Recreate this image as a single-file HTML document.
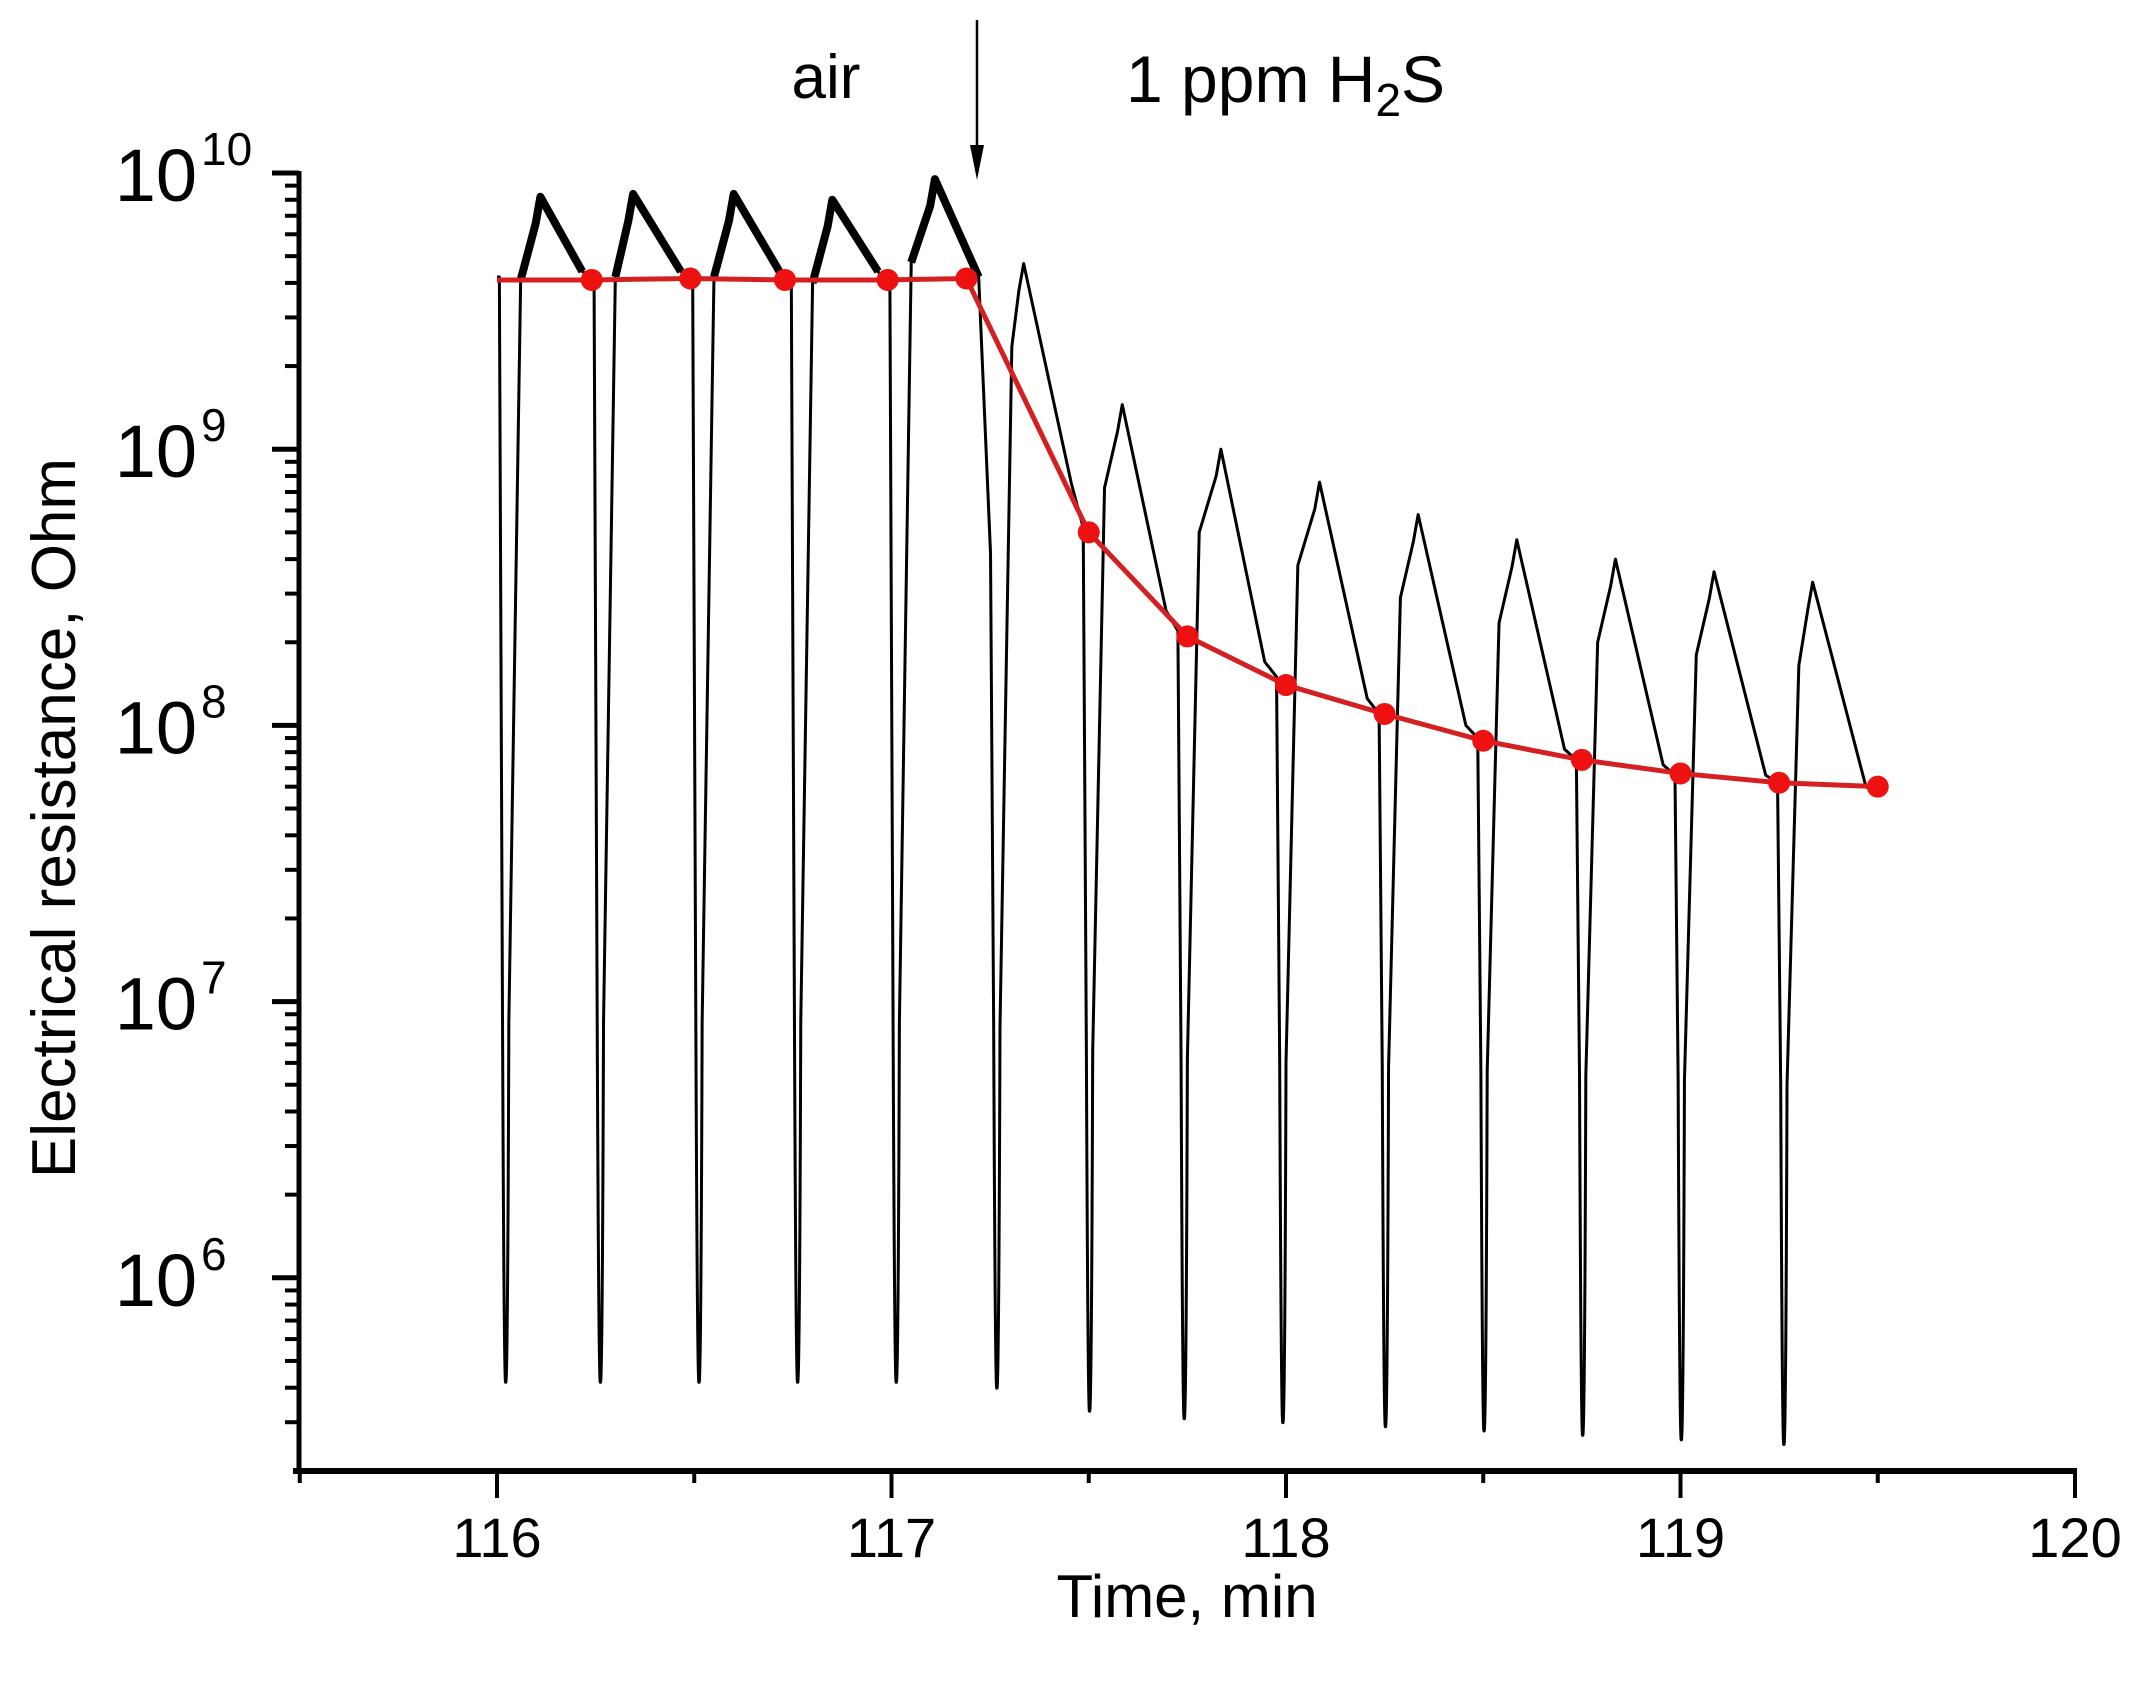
<!DOCTYPE html>
<html><head><meta charset="utf-8"><style>
html,body{margin:0;padding:0;background:#fff;}
svg{display:block;font-family:"Liberation Sans",Arial,sans-serif;}
</style></head><body>
<svg id="chart" width="2139" height="1686" viewBox="0 0 2139 1686" xmlns="http://www.w3.org/2000/svg">
<g id="axes"></g>
<g id="series"></g>
<text x="1187" y="1617" font-size="60" text-anchor="middle">Time, min</text>
<text transform="translate(75,818) rotate(-90)" font-size="62" text-anchor="middle">Electrical resistance, Ohm</text>
<text x="826" y="98" font-size="62" text-anchor="middle">air</text>
<text x="1126" y="102" font-size="66">1 ppm H<tspan font-size="46" dy="14">2</tspan><tspan dy="-14">S</tspan></text>
<g>
<line x1="977" y1="20" x2="977" y2="160" stroke="#000" stroke-width="2.5"/>
<polygon points="970,145 984,145 977,180" fill="#000"/>
</g>
</svg>
<script>
// ---- data ----
const xTicks = [116, 117, 118, 119, 120];
const xMinorTicks = [115.5, 116.5, 117.5, 118.5, 119.5];
const yDecades = [6, 7, 8, 9, 10];
// black trace cycle parameters
const dropTimes = [116.01, 116.25, 116.50, 116.75, 117.0, 117.255, 117.49, 117.73, 117.98, 118.24, 118.49, 118.74, 118.99, 119.25];
const minVals   = [4.2e5, 4.2e5, 4.2e5, 4.2e5, 4.2e5, 4.0e5, 3.3e5, 3.1e5, 3.0e5, 2.9e5, 2.8e5, 2.7e5, 2.6e5, 2.5e5];
const peakTimes = [116.11, 116.345, 116.60, 116.85, 117.11, 117.335, 117.585, 117.835, 118.085, 118.335, 118.585, 118.835, 119.085, 119.335];
const peakVals  = [8.2e9, 8.4e9, 8.4e9, 8.0e9, 9.5e9, 4.7e9, 1.45e9, 1.0e9, 7.6e8, 5.8e8, 4.7e8, 4.0e8, 3.6e8, 3.3e8];
const kneeVals  = [4.4e9, 4.4e9, 4.4e9, 4.4e9, 4.2e9, 7.5e8, 2.6e8, 1.7e8, 1.25e8, 1.0e8, 8.2e7, 7.2e7, 6.6e7, 6.0e7];
const endVals   = [4.2e9, 4.2e9, 4.2e9, 3.8e9, 4.2e8, 5.2e8, 2.2e8, 1.5e8, 1.1e8, 9.0e7, 7.5e7, 6.6e7, 6.2e7, 5.6e7];
const noisyCycle = [true, true, true, true, true, false, false, false, false, false, false, false, false, false];
const startTime = 116.0, startVal = 4.2e9;
// red baseline series
const redTimes = [116.0, 116.24, 116.49, 116.73, 116.99, 117.19, 117.5, 117.75, 118.0, 118.25, 118.5, 118.75, 119.0, 119.25, 119.5];
const redVals  = [4.1e9, 4.1e9, 4.15e9, 4.1e9, 4.1e9, 4.15e9, 5.0e8, 2.1e8, 1.4e8, 1.1e8, 8.8e7, 7.5e7, 6.7e7, 6.2e7, 6.0e7];
const redMarker = [false, true, true, true, true, true, true, true, true, true, true, true, true, true, true];

// ---- scales ----
const X0 = 497, XPER = 394.5;
function xs(t){ return X0 + (t - 116) * XPER; }
const Y10 = 173, YDEC = 276.2;
function ys(v){ return Y10 + (10 - Math.log10(v)) * YDEC; }
const NS = 'http://www.w3.org/2000/svg';
function el(tag, attrs, parent){ const e = document.createElementNS(NS, tag); for (const k in attrs) e.setAttribute(k, attrs[k]); parent.appendChild(e); return e; }

const axes = document.getElementById('axes');
const yBottom = 1471, xLeft = 299, xRight = xs(120);
const yl = el('line', {x1: xLeft, y1: ys(1e10) - 2, x2: xLeft, y2: yBottom, stroke: '#000', 'stroke-width': 5}, axes);


const xl = el('line', {x1: xLeft - 6, y1: yBottom, x2: xRight + 2, y2: yBottom, stroke: '#000', 'stroke-width': 6}, axes);


xTicks.forEach(t => {
  const l = el('line', {x1: xs(t), y1: yBottom, x2: xs(t), y2: yBottom + 27, stroke: '#000', 'stroke-width': 4}, axes);
  
  
  const tx = el('text', {x: xs(t), y: 1557, 'font-size': 56, 'text-anchor': 'middle'}, axes);
  
  
  tx.textContent = String(t);
});
xMinorTicks.forEach(t => {
  const l = el('line', {x1: xs(t), y1: yBottom, x2: xs(t), y2: yBottom + 12, stroke: '#000', 'stroke-width': 4}, axes);
  
  
});
yDecades.forEach(d => {
  const y = ys(Math.pow(10, d));
  const l = el('line', {x1: xLeft - 27, y1: y, x2: xLeft, y2: y, stroke: '#000', 'stroke-width': 5}, axes);
  
  
  const tx = el('text', {x: 197, y: y + 28, 'font-size': 74, 'text-anchor': 'end'}, axes);
  
  
  tx.textContent = '10';
  const ex = el('text', {x: 201, y: y - 8, 'font-size': 46, 'text-anchor': 'start'}, axes);
  
  
  ex.textContent = String(d);
});
for (let d = 5; d < 10; d++) {
  for (let m = 2; m <= 9; m++) {
    const y = ys(m * Math.pow(10, d));
    if (y > yBottom - 4) continue;
    const l = el('line', {x1: xLeft - 14, y1: y, x2: xLeft, y2: y, stroke: '#000', 'stroke-width': 4}, axes);
    
    
  }
}

// ---- black trace ----
const series = document.getElementById('series');
let d = 'M' + xs(startTime) + ',' + ys(startVal);
let prevEnd = startVal;
let thick = '';
for (let i = 0; i < dropTimes.length; i++) {
  const t = dropTimes[i], m = minVals[i];
  d += ' L' + xs(t - 0.004) + ',' + ys(prevEnd);
  d += ' L' + xs(t + 0.004) + ',' + ys(m * 20);
  d += ' Q' + xs(t + 0.008) + ',' + ys(m * 0.9) + ' ' + xs(t + 0.012) + ',' + ys(m);
  d += ' Q' + xs(t + 0.017) + ',' + ys(m * 0.9) + ' ' + xs(t + 0.02) + ',' + ys(m * 20);
  d += ' L' + xs(t + 0.05) + ',' + ys(peakVals[i] * 0.5);
  d += ' L' + xs(peakTimes[i] - 0.012) + ',' + ys(peakVals[i] * 0.8);
  d += ' L' + xs(peakTimes[i]) + ',' + ys(peakVals[i]);
  const tEnd = (i + 1 < dropTimes.length) ? dropTimes[i + 1] - 0.004 : 119.5;
  const tKnee = tEnd - 0.03;
  d += ' L' + xs(tKnee) + ',' + ys(kneeVals[i]);
  d += ' L' + xs(tEnd) + ',' + ys(endVals[i]);
  if (noisyCycle[i]) {
    thick += 'M' + xs(t + 0.05) + ',' + ys(peakVals[i] * 0.5) + ' L' + xs(peakTimes[i] - 0.012) + ',' + ys(peakVals[i] * 0.8) +
      ' L' + xs(peakTimes[i]) + ',' + ys(peakVals[i]) + ' L' + xs(tKnee) + ',' + ys(kneeVals[i]) + ' ';
  }
  prevEnd = endVals[i];
}
const trace = el('path', {d: d, fill: 'none', stroke: '#000', 'stroke-width': 3, 'stroke-linejoin': 'round'}, series);


const noise = el('path', {d: thick, fill: 'none', stroke: '#000', 'stroke-width': 8, 'stroke-linejoin': 'round'}, series);



// ---- red baseline ----
let rd = '';
redTimes.forEach((t, i) => { rd += (i ? ' L' : 'M') + xs(t) + ',' + ys(redVals[i]); });
const rl = el('path', {d: rd, fill: 'none', stroke: '#d42020', 'stroke-width': 5}, series);


redTimes.forEach((t, i) => {
  if (!redMarker[i]) return;
  const c = el('circle', {cx: xs(t), cy: ys(redVals[i]), r: 11, fill: '#ee1111'}, series);
  
  
});
</script>
</body></html>
